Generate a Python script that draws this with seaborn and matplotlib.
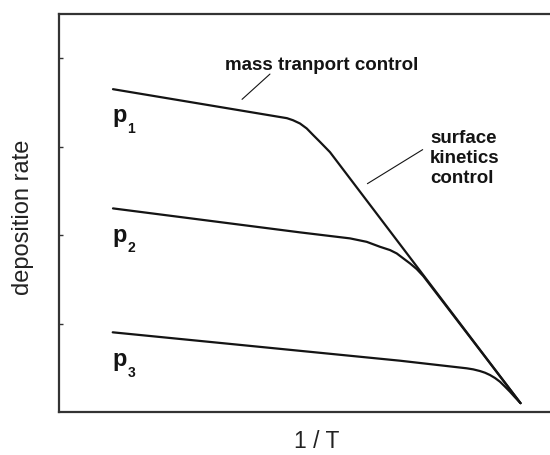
import matplotlib
matplotlib.use("Agg")
import matplotlib.pyplot as plt
import seaborn as sns
import pandas as pd

# Deposition rate vs 1/T for three pressures (arbitrary units)
p1_x = [0.610, 2.576, 2.644, 2.723, 2.799, 2.873, 2.949, 3.062, 5.215]
p1_y = [3.650, 3.322, 3.299, 3.262, 3.206, 3.130, 3.054, 2.938, 0.100]

p2_x = [0.610, 2.723, 3.288, 3.477, 3.627, 3.740, 3.816, 3.890, 3.966, 4.042, 4.116, 5.215]
p2_y = [2.302, 2.031, 1.963, 1.924, 1.868, 1.831, 1.793, 1.737, 1.680, 1.616, 1.537, 0.100]

p3_x = [0.607, 3.853, 4.607, 4.681, 4.757, 4.814, 4.870, 4.927, 4.983, 5.040, 5.096, 5.153, 5.215]
p3_y = [0.901, 0.580, 0.494, 0.482, 0.463, 0.444, 0.418, 0.384, 0.342, 0.286, 0.229, 0.166, 0.100]

series_names = ["1", "2", "3"]
y_ticks = [1, 2, 3, 4]

frames = []
for name, xs, ys in zip(series_names, [p1_x, p2_x, p3_x], [p1_y, p2_y, p3_y]):
    frames.append(pd.DataFrame({"inv_T": xs, "rate": ys, "p": name,
                                "order": range(len(xs))}))
df = pd.concat(frames, ignore_index=True)

sns.set_theme(style="white")
plt.rcParams["font.family"] = ["Liberation Sans", "DejaVu Sans"]

fig = plt.figure(figsize=(5.5, 4.55), dpi=100)
ax = fig.add_axes([59 / 550, 1 - 412 / 455, 1 - 59 / 550, (412 - 14) / 455])

sns.lineplot(data=df, x="inv_T", y="rate", units="p", estimator=None,
             sort=False, color="#141414", linewidth=1.6, ax=ax, legend=False)

ax.set_xlim(0, 491 / 88.5)
ax.set_ylim(0, 4.5)
ax.set_xticks([])
ax.set_yticks(y_ticks)
ax.set_yticklabels([])
ax.tick_params(axis="y", direction="in", length=3, width=1, color="#333333", left=True)
ax.set_xlabel("")
ax.set_ylabel("")

for side in ["left", "top", "bottom"]:
    ax.spines[side].set_color("#333333")
    ax.spines[side].set_linewidth(1.6)
ax.spines["right"].set_visible(False)

# pressure labels
p_label_y = [3.277, 1.921, 0.520]
sub_label_y = [3.153, 1.808, 0.395]
for name, yb, ys in zip(series_names, p_label_y, sub_label_y):
    ax.text(0.605, yb, "p", fontsize=17, fontweight="bold", va="baseline",
            ha="left", color="#141414")
    ax.text(0.774, ys, name, fontsize=10, fontweight="bold", va="baseline",
            ha="left", color="#141414")

# regime annotations with leader lines
ax.text(2.966, 3.864, "mass tranport control", fontsize=13.5, fontweight="bold",
        ha="center", va="baseline", color="#141414")
ax.annotate("", xy=(2.045, 3.514), xytext=(2.407, 3.842),
            arrowprops=dict(arrowstyle="-", color="#141414", lw=0.8))

for line, yb in zip(["surface", "kinetics", "control"], [3.040, 2.814, 2.588]):
    ax.text(4.192, yb, line, fontsize=13.5, fontweight="bold",
            ha="left", va="baseline", color="#141414")
ax.annotate("", xy=(3.458, 2.565), xytext=(4.136, 2.983),
            arrowprops=dict(arrowstyle="-", color="#141414", lw=0.8))

fig.text(317 / 550, 1 - 448 / 455, "1 / T", fontsize=16.5, ha="center",
         va="baseline", color="#222222")
fig.text(23 / 550, 1 - 217 / 455, "deposition rate", fontsize=17, rotation=90,
         ha="center", va="center", color="#222222")

fig.savefig("out.png", dpi=100)
